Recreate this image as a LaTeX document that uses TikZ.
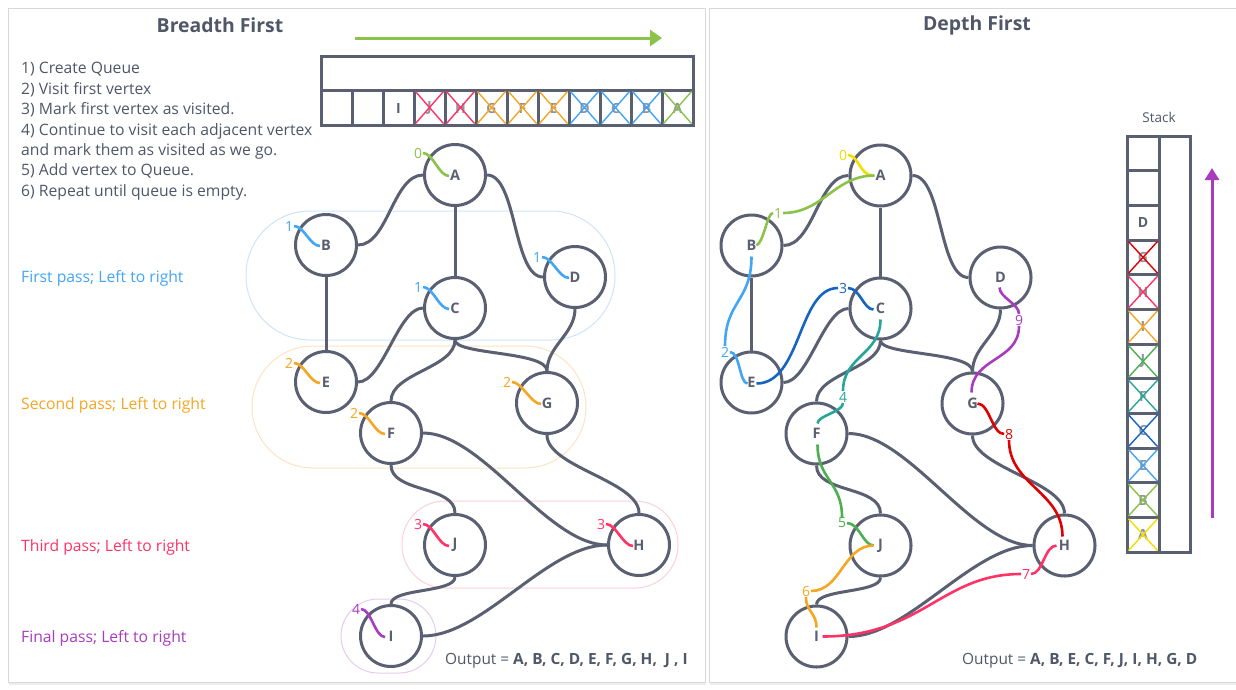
\documentclass[tikz,border=0pt]{standalone}
\usepackage{fontspec}
\setmainfont{Open Sans}
\usetikzlibrary{calc,arrows.meta}
\definecolor{ink}{HTML}{5A6072}
\definecolor{txt}{HTML}{505768}
\definecolor{panelc}{HTML}{D8D8D8}
\definecolor{faint}{HTML}{8E94A2}
\definecolor{cgreen}{HTML}{8BC34A}
\definecolor{cblue}{HTML}{42A5F5}
\definecolor{corange}{HTML}{F5A623}
\definecolor{cpink}{HTML}{FF3366}
\definecolor{cpurple}{HTML}{A83CBF}
\definecolor{cyellow}{HTML}{F2DE00}
\definecolor{cdblue}{HTML}{1565C0}
\definecolor{cteal}{HTML}{26A69A}
\definecolor{cdgreen}{HTML}{4CAF50}
\definecolor{cred}{HTML}{E00000}
\definecolor{ovblue}{HTML}{CFE5F7}
\definecolor{ovorange}{HTML}{FDE3C2}
\definecolor{ovpink}{HTML}{FAD0DB}
\definecolor{ovpurple}{HTML}{E6CCEB}
\tikzset{
  vertex/.style={circle, draw=ink, fill=white, line width=3pt, minimum size=61pt, inner sep=0pt,
    font=\fontsize{14.5}{16}\selectfont\bfseries, text=ink},
  link/.style={draw=ink, line width=3pt},
  wig/.style={line width=2.6pt},
  num/.style={inner sep=0.8pt, font=\fontsize{14}{16}\selectfont},
  cellbox/.style={draw=ink, line width=3pt},
  crossline/.style={line width=1.4pt},
  cellletter/.style={font=\fontsize{14}{16}\selectfont\bfseries, text=faint},
  passlabel/.style={anchor=west, inner sep=0pt, font=\fontsize{15.7}{17}\selectfont},
  oval/.style={line width=1pt},
  title/.style={font=\fontsize{19.4}{21}\selectfont\bfseries, text=txt},
  outtext/.style={anchor=west, inner sep=0pt, font=\fontsize{15.4}{17}\selectfont, text=txt},
}
\newcommand{\graphbody}{%
  \node[vertex] (A) at (455,175) {A};
  \node[vertex] (B) at (326,245) {B};
  \node[vertex] (C) at (455,308) {C};
  \node[vertex] (D) at (575,277) {D};
  \node[vertex] (E) at (326,382) {E};
  \node[vertex] (F) at (391,433) {F};
  \node[vertex] (G) at (547,403) {G};
  \node[vertex] (J) at (455,545) {J};
  \node[vertex] (H) at (639,545) {H};
  \node[vertex] (I) at (391,636) {I};
  \draw[link] (A.west) .. controls +(-30,0) and +(30,0) .. (B.east);
  \draw[link] (A.south) -- (C.north);
  \draw[link] (A.east) .. controls +(30,0) and +(-30,0) .. (D.west);
  \draw[link] (B.south) -- (E.north);
  \draw[link] (C.west) .. controls +(-25,0) and +(25,0) .. (E.east);
  \draw[link] (C.south) .. controls +(0,28) and +(0,-28) .. (F.north);
  \draw[link] (C.south) .. controls +(0,15) and +(0,-20) .. (G.north);
  \draw[link] (D.south) .. controls +(0,25) and +(0,-25) .. (G.north);
  \draw[link] (F.south) .. controls +(0,28) and +(0,-28) .. (J.north);
  \draw[link] (F.east) .. controls +(60,0) and +(-60,0) .. (H.west);
  \draw[link] (G.south) .. controls +(0,32) and +(0,-32) .. (H.north);
  \draw[link] (J.south) .. controls +(0,16) and +(0,-16) .. (I.north);
  \draw[link] (I.east) .. controls +(60,0) and +(-60,0) .. (H.west);
}
\newcommand{\bfsnum}[4]{%
  \node[num, text=#3] (#1n) at ($(#1)+(#4)$) {#2};
  \draw[#3, wig] (#1n.east) .. controls +(10,0) and +(-10,0) .. ($(#1)+(-6,1)$);
}
\begin{document}
\begin{tikzpicture}[x=1pt, y=-1pt]
\useasboundingbox (0,0) rectangle (1236,689);
\fill[white] (0,0) rectangle (1236,689);
% panels
\fill[black!7] (9,682) rectangle (706,685);
\fill[black!7] (710,682) rectangle (1236,685);
\draw[panelc, line width=1pt] (8.5,8.5) rectangle (705,682);
\draw[panelc, line width=1pt] (709.5,8.5) rectangle (1245,682);
% titles
\node[title] (t1) at (220,25) {Breadth First};
\node[title] (t2) at (977,25) {Depth First};
% steps
\node[anchor=north west, align=left, inner sep=0pt, font=\fontsize{15.7}{20.4}\selectfont, text=txt] (steps) at (21,62.3)
 {1) Create Queue\\2) Visit first vertex\\3) Mark first vertex as visited.\\4) Continue to visit each adjacent vertex\\and mark them as visited as we go.\\5) Add vertex to Queue.\\6) Repeat until queue is empty.};
% pass ovals
\draw[ovblue, oval, rounded corners=64pt] (246,211) rectangle (615,340);
\draw[ovorange, oval, rounded corners=61pt] (252,346) rectangle (586,468);
\draw[ovpink, oval, rounded corners=43pt] (402,501) rectangle (678,588);
\draw[ovpurple, oval, rounded corners=37pt] (341,599) rectangle (436,673);
% pass labels
\node[passlabel, text=cblue] (p1) at (21,278) {First pass; Left to right};
\node[passlabel, text=corange] (p2) at (21,405) {Second pass; Left to right};
\node[passlabel, text=cpink] (p3) at (21,547) {Third pass; Left to right};
\node[passlabel, text=cpurple] (p4) at (21,638) {Final pass; Left to right};
% graphs
\begin{scope}[name prefix=L-]
\graphbody
\end{scope}
\begin{scope}[name prefix=R-, shift={(425.5,0.5)}]
\graphbody
\end{scope}
% BFS numbers
\bfsnum{L-A}{0}{cgreen}{-37,-22}
\bfsnum{L-B}{1}{cblue}{-37,-19}
\bfsnum{L-C}{1}{cblue}{-37,-21}
\bfsnum{L-D}{1}{cblue}{-38,-20}
\bfsnum{L-E}{2}{corange}{-37,-19}
\bfsnum{L-F}{2}{corange}{-37,-20}
\bfsnum{L-G}{2}{corange}{-40,-21}
\bfsnum{L-J}{3}{cpink}{-37,-21}
\bfsnum{L-H}{3}{cpink}{-38,-21}
\bfsnum{L-I}{4}{cpurple}{-35,-27}
% queue
\draw[cgreen, line width=3pt, -{Triangle[length=12pt,width=16pt]}] (355,38) -- (662,38);
\draw[cellbox] (321,56) rectangle (693,90);
\foreach \i in {0,...,11} {\draw[cellbox] ({321+31*\i},90) rectangle ({352+31*\i},125);}
\node[font=\fontsize{14}{16}\selectfont\bfseries, text=ink] (q2) at ({321+31*2+15.5},108) {I};
\foreach \i/\l/\c in {3/J/cpink,4/H/cpink,5/G/corange,6/F/corange,7/E/corange,8/D/cblue,9/C/cblue,10/B/cblue,11/A/cgreen} {
  \node[cellletter] (q\i) at ({321+31*\i+15.5},108) {\l};
  \draw[\c, crossline] ({322.5+31*\i},91.5) -- ({350.5+31*\i},123.5) ({322.5+31*\i},123.5) -- ({350.5+31*\i},91.5);
}
% stack
\node[font=\fontsize{13.5}{15}\selectfont, text=txt] (stk) at (1159,117) {Stack};
\draw[cellbox] (1159,136) rectangle (1190,552);
\foreach \i in {0,...,11} {\draw[cellbox] (1127,{136+34.667*\i}) rectangle (1159,{136+34.667*(\i+1)});}
\node[font=\fontsize{14}{16}\selectfont\bfseries, text=ink] (s2) at (1143,{136+34.667*2.5}) {D};
\foreach \i/\l/\c in {3/G/cred,4/H/cpink,5/I/corange,6/J/cdgreen,7/F/cteal,8/C/cdblue,9/E/cblue,10/B/cgreen,11/A/cyellow} {
  \node[cellletter] (s\i) at (1143,{136+34.667*(\i+0.5)}) {\l};
  \draw[\c, crossline] (1128.5,{137.5+34.667*\i}) -- (1157.5,{134.5+34.667*(\i+1)}) (1128.5,{134.5+34.667*(\i+1)}) -- (1157.5,{137.5+34.667*\i});
}
\draw[cpurple, line width=3pt, -{Triangle[length=12pt,width=14pt]}] (1212,518) -- (1212,168);
% DFS numbers
\node[num, text=cyellow] (d0) at (843,155) {0};
\node[num, text=cgreen] (d1) at (778,213) {1};
\node[num, text=cblue] (d2) at (725,352) {2};
\node[num, text=cdblue] (d3) at (843,288) {3};
\node[num, text=cteal] (d4) at (843,397) {4};
\node[num, text=cdgreen] (d5) at (842,523) {5};
\node[num, text=corange] (d6) at (806,591) {6};
\node[num, text=cpink] (d7) at (1026,574) {7};
\node[num, text=cred] (d8) at (1009,434) {8};
\node[num, text=cpurple] (d9) at (1019,320) {9};
\draw[cyellow, wig] (d0.east) .. controls +(10,0) and +(-12,0) .. ($(R-A)+(-8,0)$);
\draw[cgreen, wig] ($(R-B)+(5,0)$) .. controls +(8,-5) and +(-6,0) .. (d1.west);
\draw[cgreen, wig] (d1.east) .. controls +(40,0) and +(-40,0) .. ($(R-A)+(-6,0)$);
\draw[cblue, wig] ($(R-B)+(0,11)$) .. controls +(0,45) and +(0,-45) .. (d2.north);
\draw[cblue, wig] (d2.east) .. controls +(10,0) and +(-8,0) .. ($(R-E)+(-4,1)$);
\draw[cdblue, wig] ($(R-E)+(5,1)$) .. controls +(45,0) and +(-40,0) .. (d3.west);
\draw[cdblue, wig] (d3.east) .. controls +(12,0) and +(-10,0) .. ($(R-C)+(-7,1)$);
\draw[cteal, wig] ($(R-C)+(0,11)$) .. controls +(0,35) and +(0,-35) .. (d4.north);
\draw[cteal, wig] (d4.south) .. controls +(0,9) and +(0,-8) .. ($(R-F)+(1,-10)$);
\draw[cdgreen, wig] ($(R-F)+(1,11)$) .. controls +(0,35) and +(0,-35) .. (d5.north);
\draw[cdgreen, wig] (d5.east) .. controls +(12,0) and +(-10,0) .. ($(R-J)+(-7,0)$);
\draw[corange, wig] ($(R-J)+(-7,0)$) .. controls +(-30,0) and +(30,0) .. (d6.east);
\draw[corange, wig] (d6.south) .. controls +(0,15) and +(0,-15) .. ($(R-I)+(0,-9)$);
\draw[cpink, wig] ($(R-I)+(6,0)$) .. controls +(100,0) and +(-80,0) .. (d7.west);
\draw[cpink, wig] (d7.east) .. controls +(12,0) and +(-12,0) .. ($(R-H)+(-8,0)$);
\draw[cred, wig] ($(R-G)+(5,0)$) .. controls +(12,0) and +(-12,0) .. (d8.west);
\draw[cred, wig] (d8.south) .. controls +(0,45) and +(0,-45) .. ($(R-H)+(-2,-9)$);
\draw[cpurple, wig] ($(R-D)+(-1,10)$) .. controls +(0,10) and +(0,-10) .. (d9.north);
\draw[cpurple, wig] (d9.south) .. controls +(0,35) and +(0,-35) .. ($(R-G)+(-1,-11)$);
% outputs
\node[outtext] (o1) at (445,660.5) {Output = \textbf{A, B, C, D, E, F, G, H,\ \ J , I}};
\node[outtext] (o2) at (962,660.5) {Output = \textbf{A, B, E, C, F, J, I, H, G, D}};
\end{tikzpicture}
\end{document}
